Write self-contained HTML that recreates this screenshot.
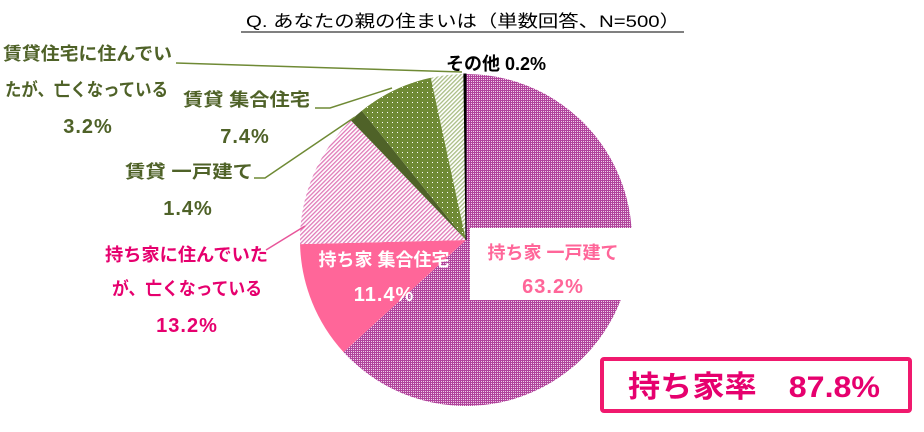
<!DOCTYPE html>
<html><head><meta charset="utf-8"><style>
body{margin:0;background:#fff;}
svg text{font-family:"Liberation Sans","Noto Sans CJK JP",sans-serif;font-weight:bold;}
</style></head><body>
<svg width="924" height="427" viewBox="0 0 924 427">
<defs>
<pattern id="pDot" width="2" height="2" patternUnits="userSpaceOnUse"><rect width="2" height="2" fill="#b0449c"/><rect x="1" y="1" width="1" height="1" fill="#f0d0e8"/></pattern>
<pattern id="pPinkHatch" width="3" height="3" patternUnits="userSpaceOnUse" patternTransform="rotate(45)"><rect width="3" height="3" fill="#fff"/><rect width="1.3" height="3" fill="#e07ab8"/></pattern>
<pattern id="pGreenDot" width="5" height="5" patternUnits="userSpaceOnUse"><rect width="5" height="5" fill="#6f8a35"/><rect x="2" y="2" width="1" height="1" fill="#fff"/></pattern>
<pattern id="pGreenHatch" width="3" height="3" patternUnits="userSpaceOnUse" patternTransform="rotate(45)"><rect width="3" height="3" fill="#fff"/><rect width="1.3" height="3" fill="#a9bd84"/></pattern>
</defs>
<text x="246" y="27" font-size="17" style="font-weight:normal" fill="#000" textLength="434" lengthAdjust="spacingAndGlyphs">Q. あなたの親の住まいは（単数回答、N=500）</text>
<line x1="241" y1="32" x2="684" y2="32" stroke="#000" stroke-width="1"/>
<g id="slices"></g>
<polyline points="176,63 462,72" fill="none" stroke="#6f8a35" stroke-width="1.5"/>
<polyline points="315,108 330,108 392,88" fill="none" stroke="#6f8a35" stroke-width="1.5"/>
<polyline points="254,178 265,178 355,117" fill="none" stroke="#6f8a35" stroke-width="1.5"/>
<polyline points="266,250 305,226" fill="none" stroke="#e8559a" stroke-width="1.5"/>
<g fill="#4f6228" font-size="18">
<text x="3" y="60" textLength="169" lengthAdjust="spacingAndGlyphs">賃貸住宅に住んでい</text>
<text x="5" y="96" textLength="163" lengthAdjust="spacingAndGlyphs">たが、亡くなっている</text>
<text x="88" y="133" text-anchor="middle" font-size="20" letter-spacing="1">3.2%</text>
<text x="183" y="106" textLength="127" lengthAdjust="spacingAndGlyphs">賃貸 集合住宅</text>
<text x="245" y="143" text-anchor="middle" font-size="20" letter-spacing="1">7.4%</text>
<text x="125" y="178" textLength="128" lengthAdjust="spacingAndGlyphs">賃貸 一戸建て</text>
<text x="188" y="215" text-anchor="middle" font-size="20" letter-spacing="1">1.4%</text>
</g>
<g fill="#e6006e" font-size="18">
<text x="105" y="261" textLength="163" lengthAdjust="spacingAndGlyphs">持ち家に住んでいた</text>
<text x="112" y="295" textLength="150" lengthAdjust="spacingAndGlyphs">が、亡くなっている</text>
<text x="187" y="332" text-anchor="middle" font-size="20" letter-spacing="1">13.2%</text>
</g>
<text x="496" y="70" text-anchor="middle" font-size="18" fill="#000">その他 0.2%</text>
<rect x="470" y="228" width="165" height="72" fill="#fff"/>
<text x="553" y="259" text-anchor="middle" font-size="18" fill="#ff6699">持ち家 一戸建て</text>
<text x="553" y="293" text-anchor="middle" font-size="20" letter-spacing="1" fill="#ff6699">63.2%</text>
<text x="384" y="266" text-anchor="middle" font-size="18" fill="#fff">持ち家 集合住宅</text>
<text x="384" y="301" text-anchor="middle" font-size="20" letter-spacing="1" fill="#fff">11.4%</text>
<rect x="602" y="359" width="308" height="52" fill="#fff" stroke="#f0196e" stroke-width="4" rx="2"/>
<text x="628" y="397" font-size="30" fill="#e6006e" textLength="252" lengthAdjust="spacingAndGlyphs">持ち家率　87.8%</text>
</svg>
<script>
const categories=["持ち家 一戸建て","持ち家 集合住宅","持ち家に住んでいたが、亡くなっている","賃貸 一戸建て","賃貸 集合住宅","賃貸住宅に住んでいたが、亡くなっている","その他"];
const values=[63.2,11.4,13.2,1.4,7.4,3.2,0.2];
const fills=["url(#pDot)","#ff6699","url(#pPinkHatch)","#4f6228","url(#pGreenDot)","url(#pGreenHatch)","#000"];
const names=["slice-own-house","slice-own-apartment","slice-own-deceased","slice-rent-house","slice-rent-apartment","slice-rent-deceased","slice-other"];
const cx=466,cy=240,r=166;
const g=document.getElementById('slices');
const total=values.reduce((a,b)=>a+b,0);
let a0=0;
values.forEach((v,i)=>{
  const a1=a0+v/total*2*Math.PI;
  const x0=cx+r*Math.sin(a0),y0=cy-r*Math.cos(a0),x1=cx+r*Math.sin(a1),y1=cy-r*Math.cos(a1);
  const p=document.createElementNS('http://www.w3.org/2000/svg','path');
  p.setAttribute('d',`M${cx},${cy}L${x0},${y0}A${r},${r} 0 ${a1-a0>Math.PI?1:0} 1 ${x1},${y1}Z`);
  p.setAttribute('fill',fills[i]);
  if(i===6){p.setAttribute('stroke','#000');p.setAttribute('stroke-width','1');}
  
  
  g.appendChild(p);
  a0=a1;
});
</script>
</body></html>
